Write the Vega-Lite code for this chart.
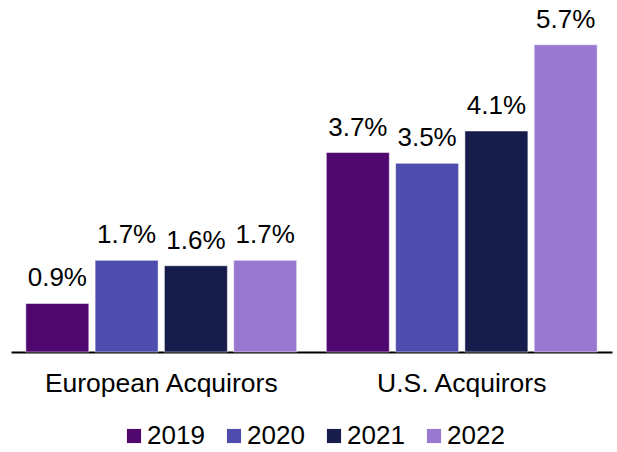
{
  "$schema": "https://vega.github.io/schema/vega-lite/v6.json",
  "width": 601,
  "height": 352,
  "autosize": {"type": "none"},
  "padding": {"left": 11, "top": 0, "right": 5, "bottom": 100},
  "background": "white",
  "config": {
    "view": {"stroke": null},
    "font": "Liberation Sans"
  },
  "data": {
    "values": [
      {"group": "European Acquirors", "year": "2019", "value": 0.009},
      {"group": "European Acquirors", "year": "2020", "value": 0.017},
      {"group": "European Acquirors", "year": "2021", "value": 0.016},
      {"group": "European Acquirors", "year": "2022", "value": 0.017},
      {"group": "U.S. Acquirors", "year": "2019", "value": 0.037},
      {"group": "U.S. Acquirors", "year": "2020", "value": 0.035},
      {"group": "U.S. Acquirors", "year": "2021", "value": 0.041},
      {"group": "U.S. Acquirors", "year": "2022", "value": 0.057}
    ]
  },
  "encoding": {
    "x": {
      "field": "group",
      "type": "nominal",
      "scale": {"paddingInner": 0, "paddingOuter": 0},
      "axis": {
        "title": null,
        "labelAngle": 0,
        "labelFontSize": 26.5,
        "labelColor": "black",
        "labelPadding": 18,
        "labelLimit": 0,
        "ticks": false,
        "domainColor": "black",
        "domainWidth": 2,
        "grid": false
      }
    },
    "xOffset": {
      "field": "year",
      "type": "nominal",
      "scale": {"paddingInner": 0.091, "paddingOuter": 0.214}
    },
    "y": {
      "field": "value",
      "type": "quantitative",
      "scale": {"domain": [0, 0.0653], "nice": false},
      "axis": null
    }
  },
  "layer": [
    {
      "mark": {"type": "bar", "stroke": "white", "strokeWidth": 0.5},
      "encoding": {
        "color": {
          "field": "year",
          "type": "nominal",
          "scale": {
            "domain": ["2019", "2020", "2021", "2022"],
            "range": ["#500870", "#4E4CAD", "#161C4B", "#9878D0"]
          },
          "legend": {
            "title": null,
            "orient": "none",
            "direction": "horizontal",
            "legendX": 110,
            "legendY": 423,
            "padding": 0,
            "symbolType": "square",
            "symbolSize": 200,
            "symbolStrokeWidth": 0,
            "labelFontSize": 26,
            "labelColor": "black",
            "labelOffset": 0,
            "columnPadding": 16
          }
        }
      }
    },
    {
      "mark": {"type": "text", "baseline": "bottom", "dy": -12, "fontSize": 26, "color": "black"},
      "encoding": {
        "text": {"field": "value", "type": "quantitative", "format": ".1%"}
      }
    }
  ]
}
